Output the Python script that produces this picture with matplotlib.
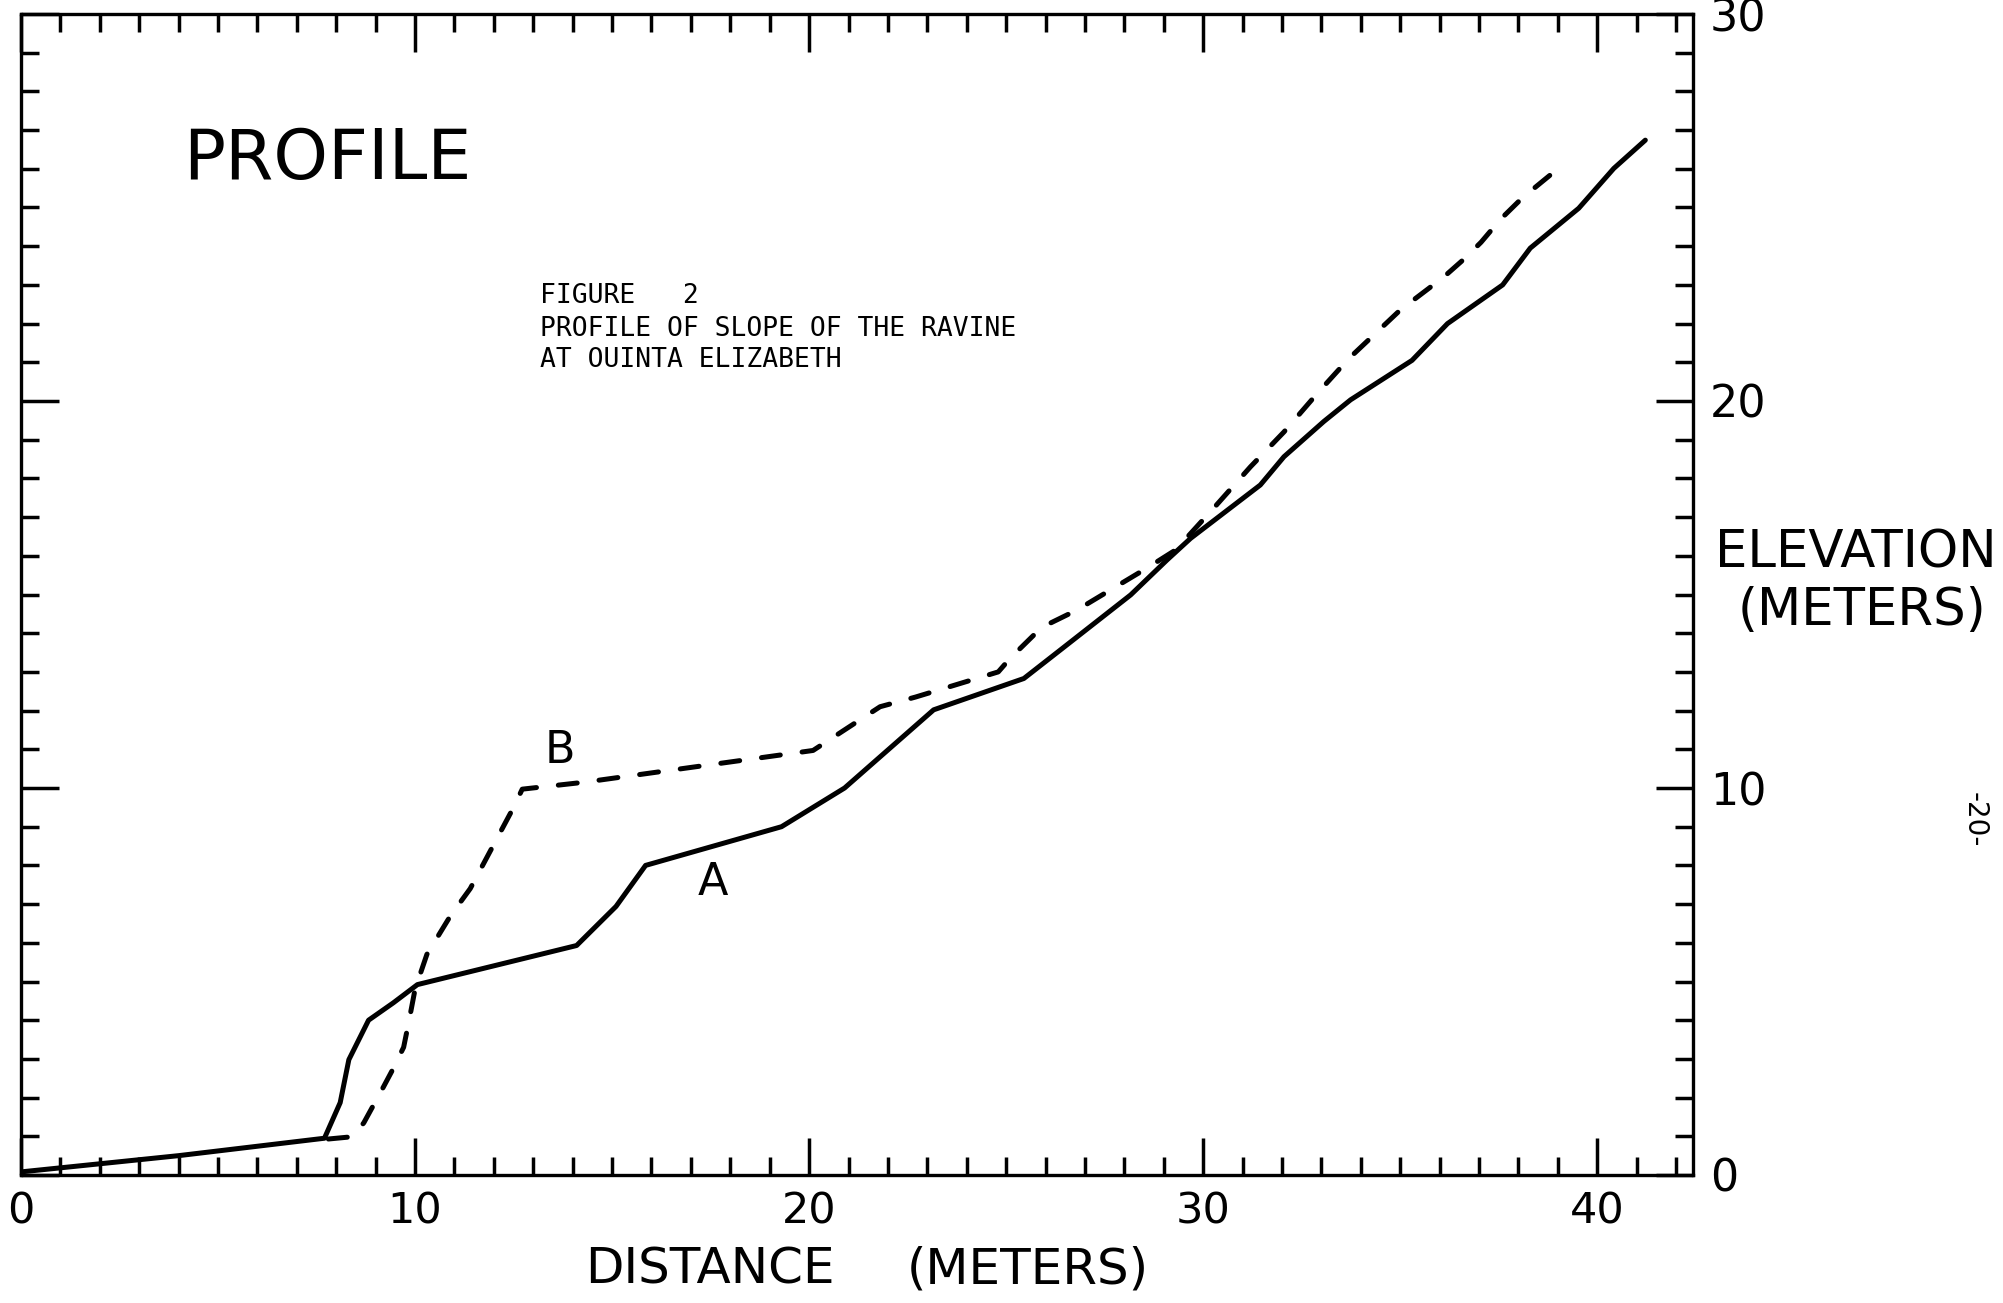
import matplotlib
matplotlib.use("Agg")
import matplotlib.pyplot as plt
from matplotlib.ticker import MultipleLocator

# Profile A (solid line): distance (m), elevation (m)
dist_a = [0.0, 4.0, 7.7, 8.1, 8.32, 8.82, 9.45, 10.06, 14.1, 15.1, 15.85,
          19.3, 20.9, 23.16, 25.45, 26.38, 28.16, 29.08, 29.68, 31.45, 32.05,
          33.06, 33.74, 35.3, 36.2, 37.6, 38.3, 39.53, 40.42, 41.22]
elev_a = [0.08, 0.5, 0.95, 1.87, 2.98, 4.0, 4.45, 4.92, 5.93, 6.94, 8.0,
          9.0, 10.0, 12.02, 12.83, 13.57, 14.99, 15.89, 16.45, 17.83, 18.56,
          19.47, 20.03, 21.05, 22.0, 23.0, 23.95, 24.98, 26.01, 26.74]

# Profile B (dashed line)
dist_b = [7.8, 8.42, 8.7, 9.2, 9.43, 9.71, 9.85, 10.0, 10.3, 10.9, 11.4,
          12.5, 12.72, 14.3, 20.1, 21.8, 22.7, 24.8, 25.1, 25.9, 26.8, 28.6,
          29.3, 30.3, 31.2, 32.05, 32.9, 33.7, 35.0, 36.1, 36.6, 37.05, 37.55,
          38.1, 39.0]
elev_b = [0.93, 0.99, 1.35, 2.28, 2.72, 3.3, 4.0, 4.8, 5.7, 6.7, 7.4,
          9.5, 9.97, 10.15, 10.97, 12.1, 12.35, 13.0, 13.35, 14.15, 14.6, 15.7,
          16.15, 17.27, 18.3, 19.2, 20.2, 21.1, 22.35, 23.2, 23.65, 24.1, 24.7,
          25.25, 26.0]

x_ticks = [0, 10, 20, 30, 40]
x_tick_labels = ["0", "10", "20", "30", "40"]
y_ticks = [0, 10, 20, 30]
y_tick_labels = ["0", "10", "20", "30"]

W, H = 2003, 1303
fig = plt.figure(figsize=(W / 100, H / 100), dpi=100)
ax = fig.add_axes([21 / W, 1 - 1175 / H, (1693 - 21) / W, (1175 - 14) / H])

ax.plot(dist_a, elev_a, color="black", lw=3.6,
        solid_capstyle="round", solid_joinstyle="round")
ax.plot(dist_b, elev_b, color="black", lw=3.6, linestyle=(0, (3.8, 4.4)),
        dash_capstyle="round", dash_joinstyle="round")

ax.set_xlim(0, 42.43)
ax.set_ylim(0, 30)
ax.set_xticks(x_ticks)
ax.set_xticklabels(x_tick_labels)
ax.set_yticks(y_ticks)
ax.set_yticklabels(y_tick_labels)
ax.xaxis.set_minor_locator(MultipleLocator(1))
ax.yaxis.set_minor_locator(MultipleLocator(1))

ax.tick_params(axis="both", which="both", direction="in", top=True,
               bottom=True, left=True, right=True, width=2.5, color="black")
ax.tick_params(which="major", length=27)
ax.tick_params(which="minor", length=13)
ax.tick_params(axis="x", labelbottom=True, labeltop=False, labelsize=31, pad=11)
ax.tick_params(axis="y", labelleft=False, labelright=True, labelsize=32, pad=12)
for s in ax.spines.values():
    s.set_linewidth(2.4)
    s.set_color("black")

def fx(px):
    return px / W

def fy(py):
    return 1 - py / H

fig.text(fx(183), fy(179), "PROFILE", fontsize=50, va="baseline", ha="left")

mono = "DejaVu Sans Mono"
fig.text(fx(540), fy(303), "FIGURE   2", family=mono, fontsize=19,
         va="baseline", ha="left")
fig.text(fx(540), fy(336), "PROFILE OF SLOPE OF THE RAVINE", family=mono,
         fontsize=19, va="baseline", ha="left")
fig.text(fx(540), fy(367), "AT OUINTA ELIZABETH", family=mono, fontsize=19,
         va="baseline", ha="left")

ax.text(13.67, 10.98, "B", fontsize=32, ha="center", va="center")
ax.text(17.55, 7.55, "A", fontsize=32, ha="center", va="center")

fig.text(fx(585), fy(1284), "DISTANCE", fontsize=36, va="baseline", ha="left")
fig.text(fx(907), fy(1284), "(METERS)", fontsize=36, va="baseline", ha="left")
fig.text(fx(1856), fy(554), "ELEVATION", fontsize=37, va="center", ha="center")
fig.text(fx(1862), fy(611), "(METERS)", fontsize=37, va="center", ha="center")
fig.text(fx(1975), fy(820), "-20-", fontsize=20, rotation=-90,
         va="center", ha="center")

fig.savefig("out.png", dpi=100)
